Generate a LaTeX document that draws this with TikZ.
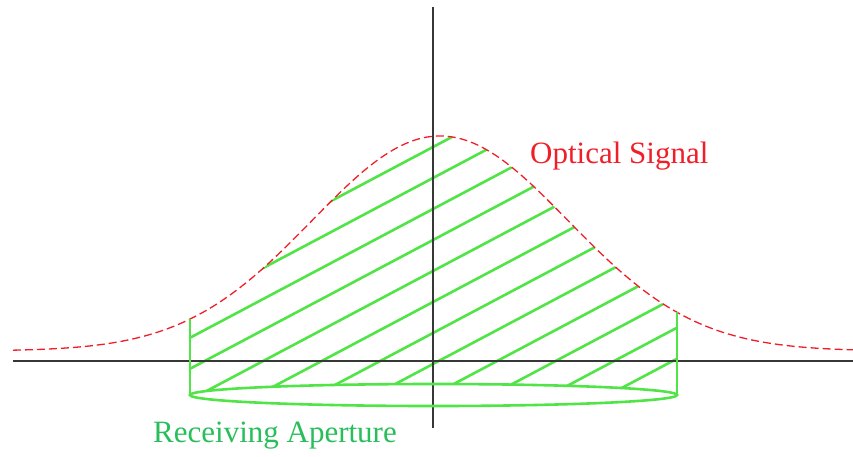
\documentclass[tikz,border=0pt]{standalone}
\usepackage{fontspec}
\setmainfont{Liberation Serif}
\usepackage{xcolor}
\usepackage{tikz}
\definecolor{signalred}{RGB}{240,30,40}
\definecolor{hatchgreen}{RGB}{80,228,70}
\definecolor{labelgreen}{RGB}{40,190,90}
\definecolor{axisgray}{RGB}{55,55,55}

\begin{document}
\begin{tikzpicture}[x=1pt,y=-1pt,
    declare function={gauss(\t)=351-215*exp(-0.5*((\t-440)/128)^2);}]
    \useasboundingbox (0,0) rectangle (853,456);

    % Hatching inside the aperture
    \begin{scope}
        \clip (190,395) -- plot[domain=190:677,samples=80] (\x,{gauss(\x)})
            -- (677,395) arc[start angle=0,end angle=-180,x radius=243.5,y radius=11] -- cycle;
        \foreach \k in {0,...,11}
            \draw[hatchgreen,line width=2.6pt] (150,{147+31*\k+0.53*283}) -- (720,{147+31*\k-0.53*287});
    \end{scope}

    % Axes
    \draw[axisgray,line width=1.6pt] (13,361) -- (853,361);
    \draw[axisgray,line width=1.6pt] (433,7) -- (433,428);

    % Optical signal
    \draw[signalred,line width=1.3pt,dash pattern=on 8pt off 4pt,domain=13:853,samples=200]
        plot (\x,{gauss(\x)});

    % Receiving aperture
    \draw[hatchgreen,line width=2.6pt] (190,{gauss(190)}) -- (190,396);
    \draw[hatchgreen,line width=2.6pt] (677,{gauss(677)}) -- (677,396);
    \draw[hatchgreen,line width=2.6pt] (433.5,395) ellipse[x radius=243.5,y radius=11];

    \node[signalred,anchor=base west,inner sep=0pt,font=\fontsize{31}{36}\selectfont] (signal) at (530,163) {Optical Signal};
    \node[labelgreen,anchor=base west,inner sep=0pt,font=\fontsize{31}{36}\selectfont] (aperture) at (153,442) {Receiving Aperture};
\end{tikzpicture}
\end{document}
